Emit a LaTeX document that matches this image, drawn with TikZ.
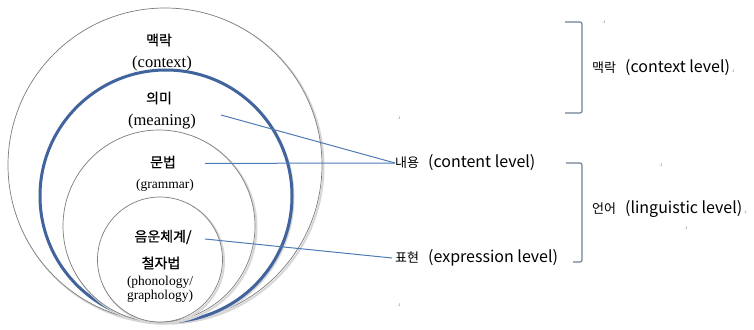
\documentclass[tikz,border=0pt]{standalone}
\usepackage{fontspec}
\setmainfont{Liberation Serif}
\newfontfamily\kr{Noto Sans CJK KR}
\newfontfamily\krb[FakeBold=0.8]{Noto Sans CJK KR}
\definecolor{ringblue}{RGB}{66,100,158}
\definecolor{linkblue}{RGB}{79,124,182}
\definecolor{ringgray}{RGB}{125,125,125}
\definecolor{shadowgray}{RGB}{215,215,215}
\definecolor{brackgray}{RGB}{112,126,150}
\definecolor{markgray}{RGB}{140,140,140}
\newcommand{\korpart}[1]{{\fontsize{13}{16}\selectfont #1}\hspace{9pt}}
\begin{document}
\begin{tikzpicture}[x=1pt,y=-1pt,
  ring/.style={draw=ringgray,line width=0.7pt,fill=white},
  ringshadow/.style={draw=shadowgray,line width=2pt},
  bluering/.style={draw=ringblue,line width=3pt,fill=white},
  kor/.style={font=\krb\fontsize{14}{16}\selectfont,inner sep=0pt},
  eng/.style={font=\fontsize{16.5}{18}\selectfont,inner sep=0pt},
  engsmall/.style={font=\fontsize{13.5}{16}\selectfont,inner sep=0pt},
  engtiny/.style={font=\fontsize{13.5}{14}\selectfont,inner sep=0pt},
  lab/.style={font=\kr\fontsize{16}{18}\selectfont,inner sep=0pt,anchor=west},
  link/.style={draw=linkblue,line width=1pt},
  brack/.style={draw=brackgray,line width=1.2pt,rounded corners=2pt},
  pmark/.style={font=\fontsize{6}{6}\selectfont,text=markgray,inner sep=0pt}
]
\fill[white] (0,0) rectangle (754,329);
\useasboundingbox (0,0) rectangle (754,329);

% nested circles
\draw[ringshadow] (166.5,166.5) circle[radius=157pt];
\draw[ring] (165,165) circle[radius=157pt];
\draw[ringshadow] (167.5,197.5) circle[radius=126pt];
\draw[bluering] (166,196) circle[radius=126pt];
\draw[ringshadow] (160.5,227.5) circle[radius=96pt];
\draw[ring] (159,226) circle[radius=96pt];
\draw[ringshadow] (161.5,261) circle[radius=62.5pt];
\draw[ring] (160,259.5) circle[radius=62.5pt];

% texts in circles
\node[kor] (ctxk) at (159,40) {맥락};
\node[eng] (ctxe) at (162,64) {(context)};
\node[kor] (meank) at (159,98) {의미};
\node[eng] (meane) at (162,122) {(meaning)};
\node[kor] (gramk) at (163,162) {문법};
\node[engsmall] (grame) at (165,185) {(grammar)};
\node[kor] (phonk) at (163,237) {음운체계/};
\node[kor] (orthk) at (161,263) {철자법};
\node[engtiny] (phone) at (160,282) {(phonology/};
\node[engtiny] (graphe) at (160,296) {graphology)};

% link start points
\coordinate (meanpt) at (221,115);
\coordinate (grampt) at (205,163.4);
\coordinate (phonpt) at (205,239);

% right labels
\node[lab] (content) at (395,163) {\korpart{내용}(content level)};
\node[lab] (express) at (395,258) {\korpart{표현}(expression level)};
\node[lab] (context) at (592,68) {\korpart{맥락}(context level)};
\node[lab] (ling) at (592,209) {\korpart{언어}(linguistic level)};

% connectors
\draw[link] (meanpt) -- (content.west);
\draw[link] (grampt) -- (content.west);
\draw[link] (phonpt) -- ([xshift=-3pt]express.west);

% brackets
\coordinate (b1a) at (565,22);
\coordinate (b1b) at (565,113);
\coordinate (b2a) at (566,163);
\coordinate (b2b) at (573,262);
\draw[brack] (b1a) -- (582,22) -- (582,113) -- (b1b);
\draw[brack] (b2a) -- (582,163) -- (582,262) -- (b2b);

% paragraph marks
\node[pmark] (pm1) at (604,22) {.ı};
\node[pmark] (pm2) at (399,118) {.ı};
\node[pmark] (pm3) at (661,165) {.ı};
\node[pmark] (pm4) at (686,228) {.ı};
\node[pmark] (pm5) at (399,305) {.ı};
\node[pmark,anchor=south west] (pm6) at ([xshift=1pt]context.base east) {.ı};
\node[pmark,anchor=south west] (pm7) at ([xshift=1pt]ling.base east) {.ı};
\end{tikzpicture}
\end{document}
